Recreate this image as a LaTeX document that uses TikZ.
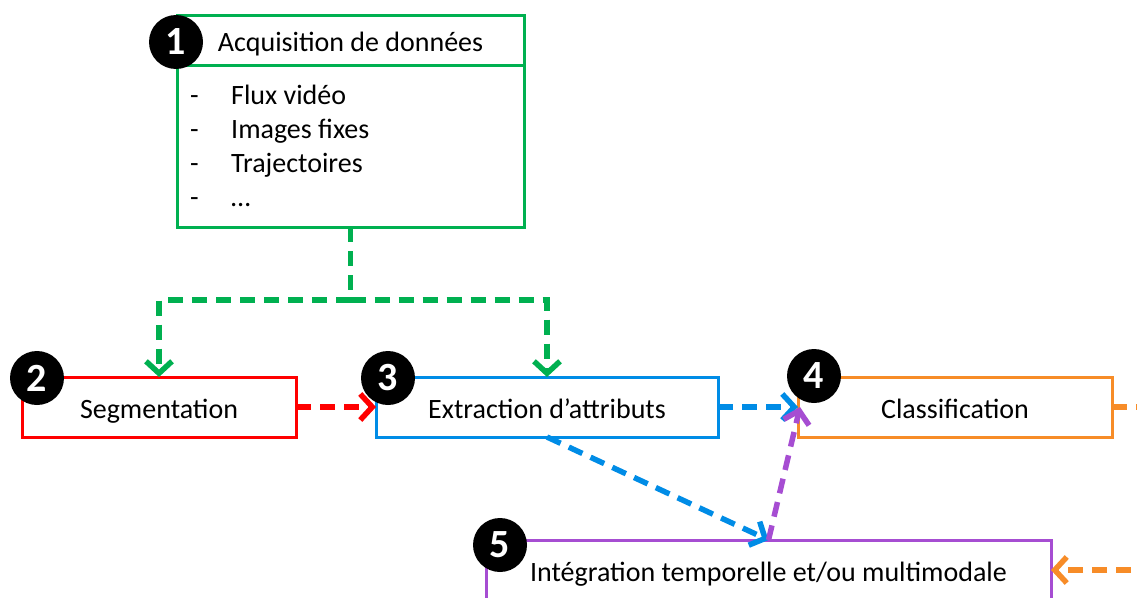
\documentclass[tikz,border=0pt]{standalone}
\usepackage{fontspec}
\setmainfont{Carlito}
\usetikzlibrary{arrows.meta}

\definecolor{acqgreen}{RGB}{0,176,80}
\definecolor{segred}{RGB}{255,0,0}
\definecolor{extblue}{RGB}{0,140,230}
\definecolor{clsorange}{RGB}{247,140,40}
\definecolor{intpurple}{RGB}{166,77,210}

\begin{document}
\begin{tikzpicture}[x=1pt,y=-1pt,
  box/.style={draw=#1, line width=3pt, fill=white, minimum height=60pt,
    inner sep=0pt, outer sep=0pt, text height=22pt, text depth=0pt,
    font=\fontsize{28}{34}\selectfont},
  num/.style={circle, fill=black, text=white, minimum size=54pt,
    inner sep=0pt, font=\fontsize{40}{40}\selectfont\bfseries},
  flow/.style={draw=#1, line width=5.5pt, dash pattern=on 15pt off 9pt,
    -{Straight Barb[length=12pt,width=26pt]}}]
\useasboundingbox (0,0) rectangle (1137,597);
% boxes
\node[box=acqgreen, minimum width=347pt, minimum height=50pt] (acq) at (350.5,40) {Acquisition de données};
\node[box=acqgreen, minimum width=347pt, minimum height=162pt, anchor=north] (acqlist) at (acq.south) {};
\node[anchor=west, inner sep=0pt, font=\fontsize{28}{34}\selectfont] (sources) at (190,149)
  {\begin{tabular}{@{}p{41pt}@{}l@{}}
   - & Flux vidéo\\
   - & Images fixes\\
   - & Trajectoires\\
   - & …
   \end{tabular}};
\node[box=segred, minimum width=274pt] (seg) at (159,407) {Segmentation};
\node[box=extblue, minimum width=342pt] (extr) at (547,407) {Extraction d’attributs};
\node[box=clsorange, minimum width=314pt] (classif) at (955,407) {Classification};
\node[box=intpurple, minimum width=565pt] (integ) at (768.5,570) {Intégration temporelle et/ou multimodale};
% step numbers
\node[num] (n1) at (176,42) {1};
\node[num] (n2) at (37,378) {2};
\node[num] (n3) at (388,378) {3};
\node[num] (n4) at (814,376) {4};
\node[num] (n5) at (500,545) {5};
% connectors
\coordinate (split) at (350.5,300);
\draw[flow=acqgreen, -] (acqlist.south) -- (split);
\draw[flow=acqgreen] (split) -| (seg.north);
\draw[flow=acqgreen] (split) -| (extr.north);
\draw[flow=segred] (seg.east) -- (extr.west);
\draw[flow=extblue] (extr.east) -- (classif.west);
\draw[flow=extblue] (extr.south) -- (integ.north);
\draw[flow=intpurple] (integ.north) -- ([xshift=2pt]classif.west);
\draw[flow=clsorange] (classif.east) -- ++(60,0) |- (integ.east);
\end{tikzpicture}
\end{document}
